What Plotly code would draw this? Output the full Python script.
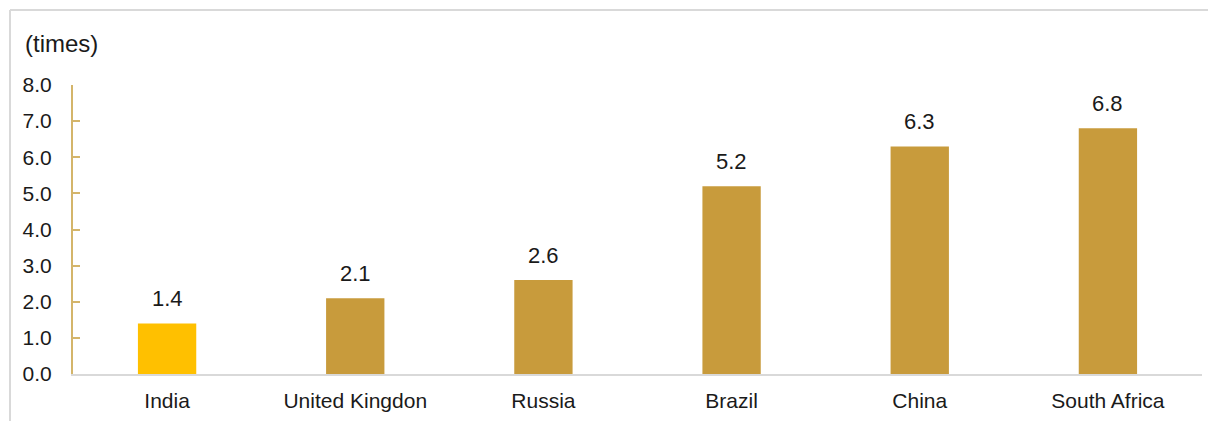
import plotly.graph_objects as go

categories = ["India", "United Kingdon", "Russia", "Brazil", "China", "South Africa"]
values = [1.4, 2.1, 2.6, 5.2, 6.3, 6.8]
labels = ["1.4", "2.1", "2.6", "5.2", "6.3", "6.8"]
colors = ["#FFC000", "#C89B3C", "#C89B3C", "#C89B3C", "#C89B3C", "#C89B3C"]
y_ticks = [0, 1, 2, 3, 4, 5, 6, 7, 8]
y_ticktext = ["0.0", "1.0", "2.0", "3.0", "4.0", "5.0", "6.0", "7.0", "8.0"]

OFF = 8  # default page body margin
W, H = 1216 - OFF, 421 - OFF
L, R, T, B = 73 - OFF, 14, 85 - OFF, 47
pw, ph = W - L - R, H - T - B

def px(x):
    return (x - OFF - L) / pw

def py(y):
    return (H - B - (y - OFF)) / ph

FONT = "Liberation Sans, Arial"

fig = go.Figure()
fig.add_trace(go.Bar(
    x=categories, y=values, marker=dict(color=colors, line=dict(width=0)),
    width=0.31, hoverinfo="skip",
))
for c, v, t in zip(categories, values, labels):
    fig.add_annotation(x=c, y=v, text=t, showarrow=False, yanchor="bottom", yshift=10,
                       font=dict(family=FONT, size=22, color="#1a1a1a"))

fig.add_annotation(xref="paper", yref="paper", x=px(23), y=py(43), text="(times)",
                   showarrow=False, xanchor="left", yanchor="middle",
                   font=dict(family=FONT, size=24, color="#1a1a1a"))

# outer frame lines (top and left)
fig.add_shape(type="line", xref="paper", yref="paper", x0=px(10), x1=px(1230), y0=py(10), y1=py(10),
              line=dict(color="#D9D9D9", width=2))
fig.add_shape(type="line", xref="paper", yref="paper", x0=px(10), x1=px(10), y0=py(10), y1=py(440),
              line=dict(color="#D9D9D9", width=2))

fig.update_layout(
    width=W, height=H,
    margin=dict(l=L, r=R, t=T, b=B),
    paper_bgcolor="white", plot_bgcolor="white",
    showlegend=False,
    font=dict(family=FONT, size=20, color="#1a1a1a"),
    xaxis=dict(showgrid=False, showline=True, linecolor="#D9D9D9", linewidth=2,
               ticks="", tickfont=dict(size=21), ticklabelstandoff=7, automargin=False,
               fixedrange=True),
    yaxis=dict(range=[0, 8], tickvals=y_ticks, ticktext=y_ticktext, showgrid=False,
               zeroline=False, showline=True, linecolor="#D4B56A", linewidth=2,
               ticks="inside", ticklen=7, tickcolor="#D4B56A", tickwidth=2,
               tickfont=dict(size=21), ticklabelstandoff=15, automargin=False,
               fixedrange=True),
)
fig.write_html("out.html")
